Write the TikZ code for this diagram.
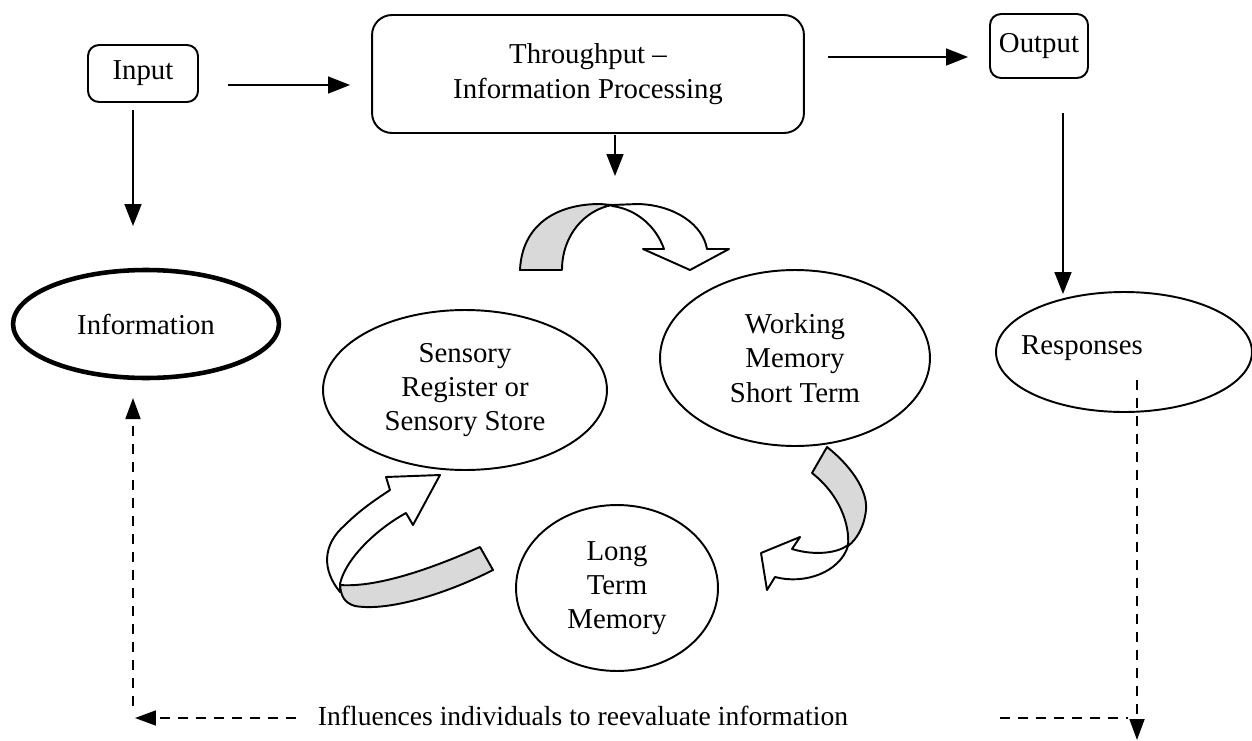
\documentclass[tikz,border=0pt]{standalone}
\usepackage{fontspec}
\setmainfont{Liberation Serif}
\usetikzlibrary{arrows.meta,shapes.geometric}
\begin{document}
\begin{tikzpicture}[x=0.02cm,y=-0.02cm,
  font=\fontsize{16.4}{19.5}\selectfont,
  box/.style={draw,line width=1.1pt,rounded corners=0.22cm,inner sep=0pt,align=center},
  arr/.style={line width=1pt,-{Triangle[length=0.44cm,width=0.34cm]}},
  dsh/.style={line width=1pt,dash pattern=on 0.2cm off 0.16cm},
  dsharr/.style={dsh,-{Triangle[length=0.42cm,width=0.3cm]}},
  ell/.style={draw,ellipse,line width=1.1pt,inner sep=0pt,align=center},
  ribbon/.style={draw,line width=1.1pt,line join=round,fill=white},
  shaded/.style={ribbon,fill=black!15}]
\useasboundingbox (0,0) rectangle (1252,741);

% boxes
\node[box,minimum width=2.2cm,minimum height=1.14cm] (input) at (143,73.5) {Input};
\node[box,minimum width=8.64cm,minimum height=2.36cm,rounded corners=0.4cm] (tp) at (588,74) {Throughput --\\Information Processing};
\node[box,minimum width=1.96cm,minimum height=1.28cm] (output) at (1039,46) {Output};

% ellipses
\node[ell,line width=2.6pt,minimum width=5.32cm,minimum height=2.16cm] (info) at (146,324) {Information};
\node[ell,minimum width=5.12cm,minimum height=2.4cm] (resp) at (1124,352) {};
\node (resptext) at (1082,348) {Responses};
\node[ell,minimum width=5.68cm,minimum height=3.2cm] (sens) at (465,390) {Sensory\\Register or\\Sensory Store};
\node[ell,minimum width=5.4cm,minimum height=3.52cm] (work) at (795,358) {Working\\Memory\\Short Term};
\node[ell,minimum width=4.04cm,minimum height=3.32cm] (ltm) at (617,588) {Long\\Term\\Memory};

% arrow end points
\coordinate (a1s) at (228,85);   \coordinate (a1e) at (350,85);
\coordinate (a2s) at (828,57);   \coordinate (a2e) at (968,57);
\coordinate (d1s) at (133,110);  \coordinate (d1e) at (133,226);
\coordinate (d2s) at (615,135);  \coordinate (d2e) at (615,176);
\coordinate (d3s) at (1063,113); \coordinate (d3e) at (1063,294);
\coordinate (l1s) at (133,706);  \coordinate (l1e) at (133,398);
\coordinate (l2s) at (296,718);  \coordinate (l2e) at (135,718);
\coordinate (r1s) at (1000,718); \coordinate (r1e) at (1128,718);
\coordinate (r2s) at (1137,380); \coordinate (r2e) at (1137,740);

\draw[arr] (a1s) -- (a1e);
\draw[arr] (a2s) -- (a2e);
\draw[arr] (d1s) -- (d1e);
\draw[arr] (d2s) -- (d2e);
\draw[arr] (d3s) -- (d3e);
\draw[dsharr] (l1s) -- (l1e);
\draw[dsharr] (l2s) -- (l2e);
\draw[dsh] (r1s) -- (r1e);
\draw[dsharr] (r2s) -- (r2e);

\node[font=\fontsize{15.7}{19}\selectfont] (infl) at (583,716) {Influences individuals to reevaluate information};

% top curved arrow
\draw[shaded] (520,270) .. controls (522,225) and (556,204) .. (600,204) -- (612,205)
  .. controls (585,210) and (562,235) .. (562,270) -- cycle;
\draw[ribbon] (612,205) -- (638,204) .. controls (675,205) and (703,225) .. (707,249)
  -- (729,249) -- (690,270) -- (643,249) -- (664,249)
  .. controls (656,226) and (636,209) .. (612,206) -- cycle;

% left curved arrow
\draw[ribbon] (340,592) .. controls (322,570) and (322,545) .. (345,525)
  .. controls (360,510) and (375,500) .. (390,490) -- (386,477) -- (440,475)
  -- (413,525) -- (406,513) .. controls (375,530) and (345,560) .. (340,584) -- cycle;
\draw[shaded] (340,585) .. controls (380,588) and (440,565) .. (480,547) -- (493,570)
  .. controls (450,592) and (390,612) .. (355,606)
  .. controls (345,603) and (341,597) .. (340,585) -- cycle;

% right curved arrow
\draw[shaded] (827,447) .. controls (850,465) and (868,490) .. (866,510)
  .. controls (864,528) and (856,540) .. (848,546)
  .. controls (850,525) and (840,495) .. (812,473) -- cycle;
\draw[ribbon] (848,546) .. controls (840,572) and (805,585) .. (775,577) -- (767,590)
  -- (761,553) -- (800,537) -- (792,549) .. controls (815,556) and (838,553) .. (848,545) -- cycle;
\end{tikzpicture}
\end{document}
